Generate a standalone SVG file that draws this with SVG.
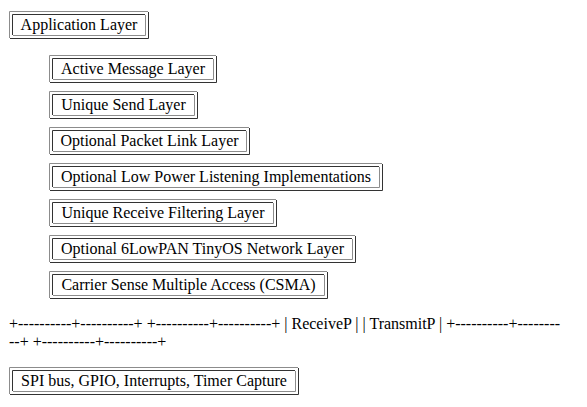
<svg xmlns="http://www.w3.org/2000/svg" width="587" height="407" viewBox="0 0 587 407">
<style>
.lt{fill:none;stroke:#8c8c8c;stroke-width:1}
.dk{fill:none;stroke:#333333;stroke-width:1}
text{font-family:"Liberation Serif","Times New Roman",serif;font-size:16px;fill:#000}
.lbl{text-anchor:middle}
</style>
<rect width="587" height="407" fill="#ffffff"/>
<g id="connectors"></g>
<g id="application-layer">
<path class="lt" d="M9.5 38V11.5H148"/><path class="dk" d="M10 38.5H148.5V12"/>
<path class="dk" d="M12.5 35V14.5H145"/><path class="lt" d="M13 35.5H145.5V15"/>
<text class="lbl" x="79" y="29.5">Application Layer</text>
</g>
<g id="active-message-layer">
<path class="lt" d="M49.5 82V55.5H216"/><path class="dk" d="M50 82.5H216.5V56"/>
<path class="dk" d="M52.5 79V58.5H213"/><path class="lt" d="M53 79.5H213.5V59"/>
<text class="lbl" x="133" y="73.5">Active Message Layer</text>
</g>
<g id="unique-send-layer">
<path class="lt" d="M49.5 118V91.5H197"/><path class="dk" d="M50 118.5H197.5V92"/>
<path class="dk" d="M52.5 115V94.5H194"/><path class="lt" d="M53 115.5H194.5V95"/>
<text class="lbl" x="123.5" y="109.5">Unique Send Layer</text>
</g>
<g id="optional-packet-link-layer">
<path class="lt" d="M49.5 154V127.5H249"/><path class="dk" d="M50 154.5H249.5V128"/>
<path class="dk" d="M52.5 151V130.5H246"/><path class="lt" d="M53 151.5H246.5V131"/>
<text class="lbl" x="149.5" y="145.5">Optional Packet Link Layer</text>
</g>
<g id="optional-lpl">
<path class="lt" d="M49.5 190V163.5H382"/><path class="dk" d="M50 190.5H382.5V164"/>
<path class="dk" d="M52.5 187V166.5H379"/><path class="lt" d="M53 187.5H379.5V167"/>
<text class="lbl" x="216" y="181.5">Optional Low Power Listening Implementations</text>
</g>
<g id="unique-receive-filtering-layer">
<path class="lt" d="M49.5 226V199.5H276"/><path class="dk" d="M50 226.5H276.5V200"/>
<path class="dk" d="M52.5 223V202.5H273"/><path class="lt" d="M53 223.5H273.5V203"/>
<text class="lbl" x="163" y="217.5">Unique Receive Filtering Layer</text>
</g>
<g id="optional-6lowpan">
<path class="lt" d="M49.5 262V235.5H355"/><path class="dk" d="M50 262.5H355.5V236"/>
<path class="dk" d="M52.5 259V238.5H352"/><path class="lt" d="M53 259.5H352.5V239"/>
<text class="lbl" x="202.5" y="253.5">Optional 6LowPAN TinyOS Network Layer</text>
</g>
<g id="csma">
<path class="lt" d="M49.5 298V271.5H327"/><path class="dk" d="M50 298.5H327.5V272"/>
<path class="dk" d="M52.5 295V274.5H324"/><path class="lt" d="M53 295.5H324.5V275"/>
<text class="lbl" x="188.5" y="289.5">Carrier Sense Multiple Access (CSMA)</text>
</g>
<g id="ascii-art">
<text x="9" y="329">+----------+----------+ +----------+----------+ | ReceiveP | | TransmitP | +----------+--------</text>
<text x="9" y="347">--+ +----------+----------+</text>
</g>
<g id="spi-bus">
<path class="lt" d="M9.5 394V367.5H298"/><path class="dk" d="M10 394.5H298.5V368"/>
<path class="dk" d="M12.5 391V370.5H295"/><path class="lt" d="M13 391.5H295.5V371"/>
<text class="lbl" x="154" y="385.5">SPI bus, GPIO, Interrupts, Timer Capture</text>
</g>
</svg>
